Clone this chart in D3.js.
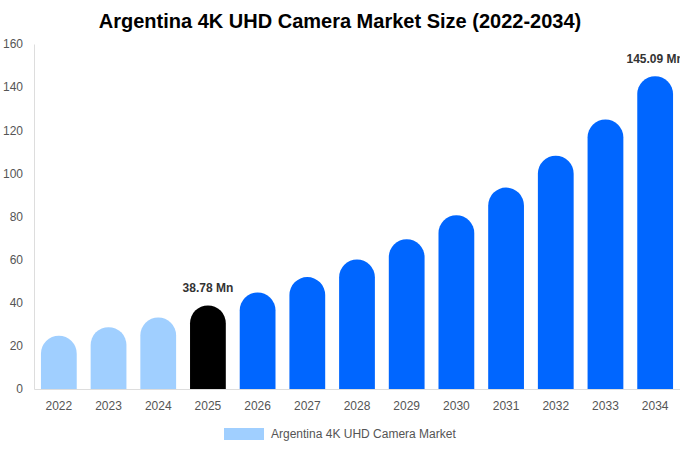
<!DOCTYPE html>
<html>
<head>
<meta charset="utf-8">
<script src="https://cdn.jsdelivr.net/npm/d3@7"></script>
<style>
  body { margin: 0; background: #fff; }
  svg { display: block; font-family: "Liberation Sans", Arial, sans-serif; }
</style>
</head>
<body>
<svg id="chart"></svg>
<script>
// data
var years = ["2022","2023","2024","2025","2026","2027","2028","2029","2030","2031","2032","2033","2034"];
var values = [24.7, 28.7, 33.2, 38.78, 44.8, 51.9, 60.1, 69.5, 80.6, 93.4, 108.2, 125.0, 145.09];
var yTicks = [0, 20, 40, 60, 80, 100, 120, 140, 160];
var labelled = ["2025", "2034"];
var seriesName = "Argentina 4K UHD Camera Market";

// dimensions
var width = 680, height = 450;
var margin = { top: 44, right: 0, bottom: 61, left: 34 };

var svg = d3.select("#chart")
    .attr("width", width)
    .attr("height", height);

// scales
var x = d3.scaleBand()
    .domain(years)
    .range([margin.left, width - margin.right])
    .paddingInner(0.28)
    .paddingOuter(0.14);

var y = d3.scaleLinear()
    .domain([0, 160])
    .range([height - margin.bottom, margin.top]);

// colour per year: history light, base year black, forecast blue
function barColor(yr) {
    if (+yr < 2025) return "#a0cfff";
    if (+yr === 2025) return "#000000";
    return "#0066ff";
}

// title
svg.append("text")
    .attr("x", width / 2)
    .attr("y", 28)
    .attr("text-anchor", "middle")
    .style("font-size", "20px")
    .style("font-weight", "bold")
    .attr("fill", "#000")
    .text("Argentina 4K UHD Camera Market Size (2022-2034)");

// y axis
var yAxis = svg.append("g")
    .attr("transform", "translate(" + margin.left + ",0)")
    .call(d3.axisLeft(y).tickValues(yTicks).tickSize(0).tickPadding(11));
yAxis.select(".domain").attr("stroke", "#ddd");
yAxis.selectAll("text").attr("fill", "#555").style("font-size", "12px");

// x axis
var xAxis = svg.append("g")
    .attr("transform", "translate(0," + y(0) + ")")
    .call(d3.axisBottom(x).tickSize(0).tickPadding(12));
xAxis.select(".domain").attr("stroke", "#ddd");
xAxis.selectAll("text").attr("fill", "#555").style("font-size", "12px");

// rounded-top bars
var bw = x.bandwidth();
var r = bw / 2;
function barPath(d, i) {
    var x0 = x(years[i]), x1 = x0 + bw;
    var yb = y(0), yt = y(d);
    var h = yb - yt;
    var rr = Math.min(r, h);
    return "M" + x0 + "," + yb +
        "V" + (yt + rr) +
        "A" + r + "," + rr + " 0 0 1 " + x1 + "," + (yt + rr) +
        "V" + yb + "Z";
}

svg.append("g")
    .selectAll("path")
    .data(values)
    .enter().append("path")
    .attr("d", barPath)
    .attr("fill", function(d, i) { return barColor(years[i]); });

// value labels
svg.append("g")
    .selectAll("text")
    .data(values.filter(function(d, i) { return labelled.indexOf(years[i]) >= 0; }))
    .enter().append("text")
    .attr("x", function(d) { return x(years[values.indexOf(d)]) + bw / 2; })
    .attr("y", function(d) { return y(d) - 13; })
    .attr("text-anchor", "middle")
    .style("font-size", "12px")
    .style("font-weight", "bold")
    .attr("fill", "#333")
    .text(function(d) { return d.toFixed(2) + " Mn"; });

// legend
var legend = svg.append("g").attr("transform", "translate(224,428)");
legend.append("rect")
    .attr("width", 40)
    .attr("height", 12)
    .attr("fill", "#a0cfff");
legend.append("text")
    .attr("x", 47)
    .attr("y", 6)
    .attr("dy", "0.35em")
    .style("font-size", "12px")
    .attr("fill", "#555")
    .text(seriesName);
</script>
</body>
</html>
